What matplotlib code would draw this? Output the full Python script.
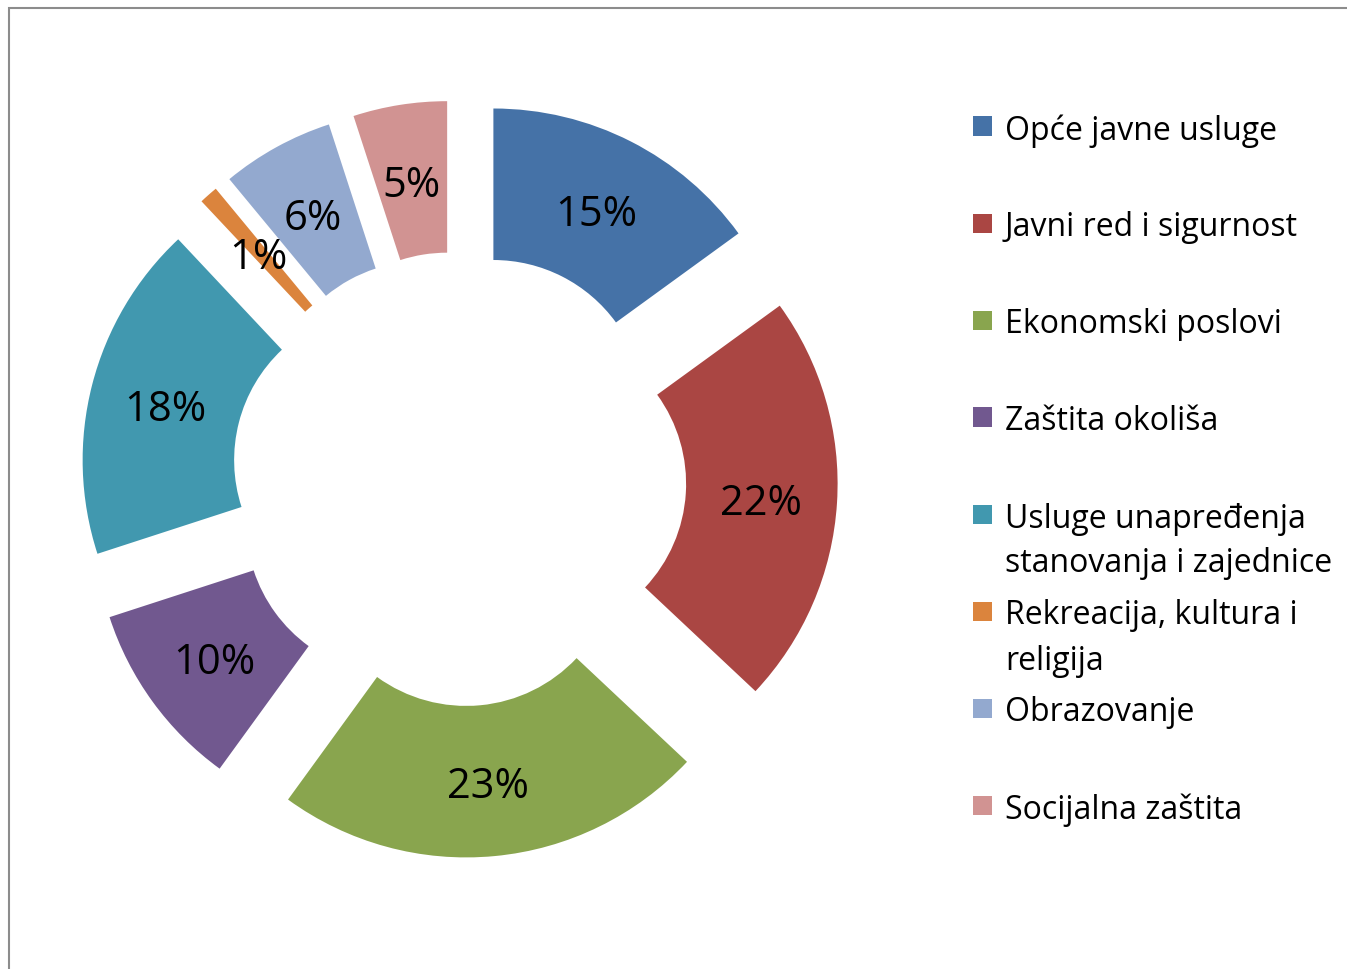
import numpy as np
import matplotlib
matplotlib.use("Agg")
import matplotlib.pyplot as plt
from matplotlib.patches import Rectangle

# data (shares of expenditure, %)
categories = [
    "Opće javne usluge",
    "Javni red i sigurnost",
    "Ekonomski poslovi",
    "Zaštita okoliša",
    "Usluge unapređenja\nstanovanja i zajednice",
    "Rekreacija, kultura i\nreligija",
    "Obrazovanje",
    "Socijalna zaštita",
]
shares = [15, 22, 23, 10, 18, 1, 6, 5]
colors = ["#4572A7", "#AA4643", "#89A54E", "#71588F",
          "#4198AF", "#DB843D", "#93A9CF", "#D19392"]

W, H = 1347, 970
DPI = 100
fig = plt.figure(figsize=(W / DPI, H / DPI), dpi=DPI)

# pie centre / radius in pixels
cx, cy, R = 459, 480, 303
ax = fig.add_axes([0, 0, 1, 1])
ax.axis("off")

font = "Open Sans"

wedges, texts, autotexts = ax.pie(
    shares, colors=colors, startangle=90, counterclock=False,
    explode=[0.25] * len(shares), radius=1.0,
    wedgeprops=dict(width=0.5, linewidth=0),
    autopct="%d%%", pctdistance=0.75,
    textprops=dict(fontsize=30, family=font, color="black"),
)
for t in autotexts:
    t.set_va("center_baseline")
ax.set_xlim(-cx / R, (W - cx) / R)
ax.set_ylim(-(H - cy) / R, cy / R)

# legend drawn by hand (Excel style fixed slots)
sq = 19
for i, (lab, col) in enumerate(zip(categories, colors)):
    yc = 127 + 97 * i
    fig.patches.append(Rectangle((973 / W, 1 - (yc + sq / 2) / H), sq / W, sq / H,
                                 transform=fig.transFigure, color=col, linewidth=0))
    for j, line in enumerate(lab.split("\n")):
        fig.text(1005 / W, 1 - (yc + 45 * j) / H, line, fontsize=23, family=font,
                 va="center_baseline", ha="left")

# chart area border
fig.patches.append(Rectangle((8.5 / W, -0.01), 1.02, 1 - 8.5 / H + 0.01,
                             transform=fig.transFigure, fill=False,
                             edgecolor="#8c8c8c", linewidth=1.5))

fig.savefig("out.png", dpi=DPI)
